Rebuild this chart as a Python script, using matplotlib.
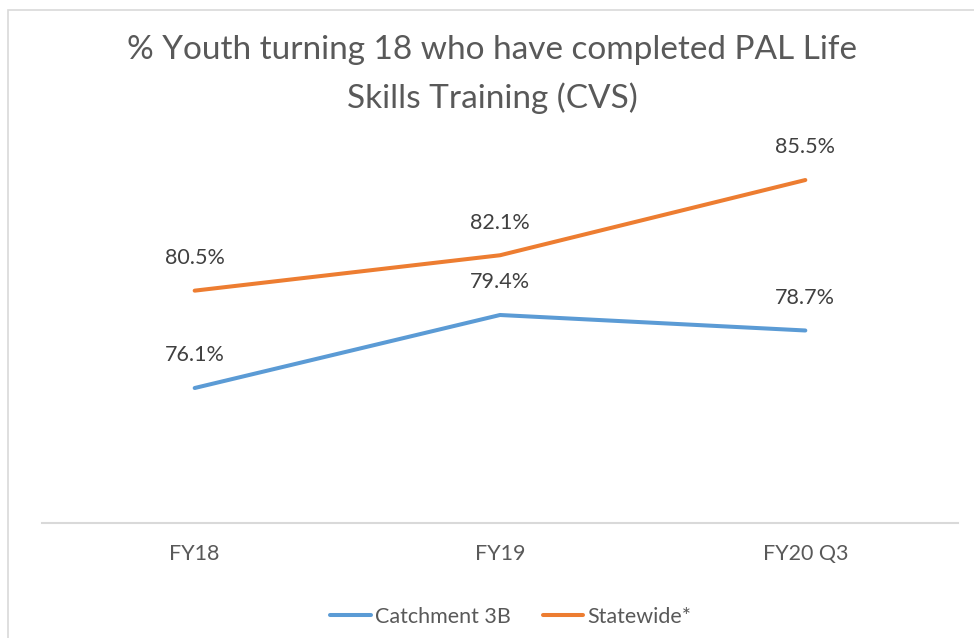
import matplotlib.pyplot as plt
from matplotlib.patches import Rectangle

plt.rcParams['font.family'] = ['Lato', 'DejaVu Sans']

categories = ["FY18", "FY19", "FY20 Q3"]
catchment = [76.1, 79.4, 78.7]
statewide = [80.5, 82.1, 85.5]

W, H = 974, 638
fig = plt.figure(figsize=(W / 100, H / 100), dpi=100)

# outer chart border (cropped on right/bottom like the screenshot)
fig.patches.append(Rectangle((8 / W, -0.1), 1.2, 1 - 10 / H + 0.1, transform=fig.transFigure,
                             fill=False, edgecolor='#D9D9D9', linewidth=1.2))

ax = fig.add_axes([42 / W, (H - 523) / H, 916 / W, (523 - 124.7) / H])
x = range(len(categories))

ax.plot(x, catchment, color='#5B9BD5', linewidth=2.9, solid_capstyle='round', label='Catchment 3B')
ax.plot(x, statewide, color='#ED7D31', linewidth=2.9, solid_capstyle='round', label='Statewide*')

for i, v in enumerate(catchment):
    ax.annotate(f"{v:.1f}%", (i, v), xytext=(0, 23.5), textcoords='offset points',
                ha='center', va='center', fontsize=15.5, color='#404040')
for i, v in enumerate(statewide):
    ax.annotate(f"{v:.1f}%", (i, v), xytext=(0, 23.5), textcoords='offset points',
                ha='center', va='center', fontsize=15.5, color='#404040')

ax.set_xlim(-0.5, 2.5)
ax.set_ylim(70, 88)
ax.set_xticks(list(x))
ax.set_xticklabels(categories, fontsize=15.5, color='#595959')
ax.tick_params(axis='x', length=0, pad=15)
ax.set_yticks([])
for s in ['top', 'right', 'left']:
    ax.spines[s].set_visible(False)
ax.spines['bottom'].set_color('#D9D9D9')
ax.spines['bottom'].set_linewidth(1.5)

fig.text(492 / W, 1 - 50 / H, "% Youth turning 18 who have completed PAL Life",
         ha='center', va='center', fontsize=24, color='#595959')
fig.text(492 / W, 1 - 98 / H, "Skills Training (CVS)",
         ha='center', va='center', fontsize=24, color='#595959')

handles, labels = ax.get_legend_handles_labels()
fig.legend(handles, labels, loc='center', bbox_to_anchor=(511 / W, 1 - 617 / H), ncol=2,
           frameon=False, fontsize=15.5, labelcolor='#595959', handlelength=1.9,
           handletextpad=0.2, columnspacing=1.45)

fig.savefig('out.png', dpi=100)
